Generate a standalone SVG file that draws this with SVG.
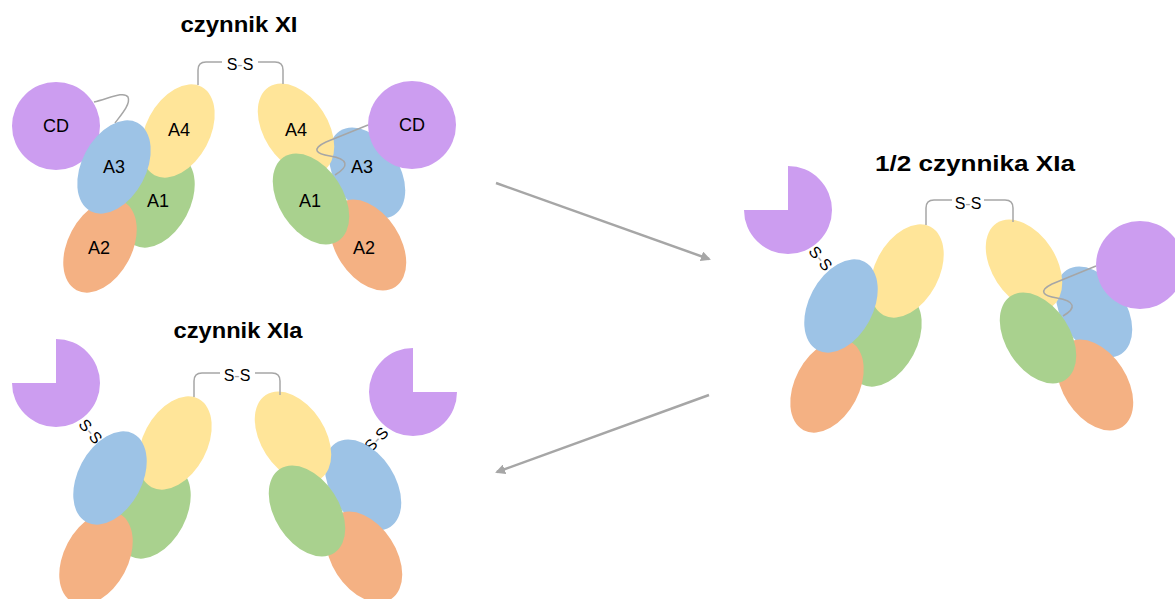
<svg xmlns="http://www.w3.org/2000/svg" width="1175" height="599" viewBox="0 0 1175 599">
  <defs>
    <style>
      .title { font-family: "Liberation Sans", Arial, sans-serif; font-weight: bold; font-size: 22px; fill: #000; text-anchor: middle; }
      .lbl { font-family: "Liberation Sans", Arial, sans-serif; font-size: 18px; fill: #000; text-anchor: middle; }
      .ss { font-family: "Liberation Sans", Arial, sans-serif; font-size: 16px; fill: #000; text-anchor: middle; }
      .dash { fill: #a6a6a6; }
      .cd { fill: #cc9df0; }
      .a1 { fill: #a9d18e; }
      .a2 { fill: #f4b183; }
      .a3 { fill: #9dc3e6; }
      .a4 { fill: #ffe599; }
      .link { fill: none; stroke: #a6a6a6; stroke-width: 1.5; }
      .arrow { fill: none; stroke: #a6a6a6; stroke-width: 2.5; marker-end: url(#head); }
    </style>
    <ellipse id="dom" cx="0" cy="0" rx="32" ry="50"/>
    <marker id="head" viewBox="0 0 10 10" refX="8" refY="5" markerWidth="4" markerHeight="4" orient="auto">
      <path d="M0,0 L10,5 L0,10 Z" fill="#a6a6a6"/>
    </marker>
  </defs>

  <rect width="1175" height="599" fill="#fff"/>

  <!-- titles -->
  <text class="title" x="239" y="32" textLength="117" lengthAdjust="spacingAndGlyphs">czynnik XI</text>
  <text class="title" x="238" y="338" textLength="129" lengthAdjust="spacingAndGlyphs">czynnik XIa</text>
  <text class="title" x="975" y="171" textLength="200" lengthAdjust="spacingAndGlyphs">1/2 czynnika XIa</text>

  <!-- factor XI: left subunit -->
  <g id="xi-left">
    <circle class="cd" cx="56" cy="126" r="44"/>
    <path class="link" d="M94,102 C110,98 124,91 128,97 C131,104 121,115 115,123"/>
    <use href="#dom" class="a1" transform="translate(158,201) rotate(28)"/>
    <use href="#dom" class="a4" transform="translate(178,131) rotate(28)"/>
    <use href="#dom" class="a2" transform="translate(100,246) rotate(28)"/>
    <use href="#dom" class="a3" transform="translate(114,167) rotate(28)"/>
    <text class="lbl" x="56" y="132">CD</text>
    <text class="lbl" x="179" y="136">A4</text>
    <text class="lbl" x="114" y="173">A3</text>
    <text class="lbl" x="158" y="207">A1</text>
    <text class="lbl" x="99" y="254">A2</text>
  </g>

  <!-- factor XI: right subunit -->
  <g id="xi-right">
    <use href="#dom" class="a3" transform="translate(367,173) rotate(-33)"/>
    <use href="#dom" class="a2" transform="translate(368,245) rotate(-33)"/>
    <use href="#dom" class="a4" transform="translate(296,129) rotate(-33)"/>
    <circle class="cd" cx="412" cy="125" r="44"/>
    <path class="link" d="M368,125 L326,142 C311,149 316,154 330,156 C348,159 350,166 335,175"/>
    <use href="#dom" class="a1" transform="translate(311,199) rotate(-33)"/>
    <text class="lbl" x="412" y="131">CD</text>
    <text class="lbl" x="296" y="136">A4</text>
    <text class="lbl" x="362" y="173">A3</text>
    <text class="lbl" x="310" y="207">A1</text>
    <text class="lbl" x="364" y="254">A2</text>
  </g>

  <!-- factor XI: interchain disulfide -->
  <g id="xi-ss">
    <path class="link" d="M198,85 L198,70 Q198,62 206,62 L222,62"/>
    <path class="link" d="M258,62 L275,62 Q283,62 283,70 L283,84"/>
    <text class="ss" x="240" y="70">S<tspan class="dash">-</tspan>S</text>
  </g>

  <!-- factor XIa: left subunit -->
  <g id="xia-left">
    <path class="cd" d="M56,339 A44,44 0 1 1 12,383 L56,383 Z"/>
    <text class="ss" transform="translate(91,431) rotate(50)" x="0" y="6">S<tspan class="dash">-</tspan>S</text>
    <use href="#dom" class="a1" transform="translate(154,512) rotate(28)"/>
    <use href="#dom" class="a4" transform="translate(175,443) rotate(28)"/>
    <use href="#dom" class="a2" transform="translate(96,558) rotate(28)"/>
    <use href="#dom" class="a3" transform="translate(110,478) rotate(28)"/>
  </g>

  <!-- factor XIa: right subunit -->
  <g id="xia-right">
    <path class="cd" d="M413,392 L413,348 A44,44 0 1 0 457,392 Z"/>
    <text class="ss" transform="translate(376,439) rotate(-47)" x="0" y="6">S<tspan class="dash">-</tspan>S</text>
    <use href="#dom" class="a3" transform="translate(363,485) rotate(-33)"/>
    <use href="#dom" class="a2" transform="translate(364,557) rotate(-33)"/>
    <use href="#dom" class="a4" transform="translate(293,437) rotate(-33)"/>
    <use href="#dom" class="a1" transform="translate(307,511) rotate(-33)"/>
  </g>

  <!-- factor XIa: interchain disulfide -->
  <g id="xia-ss">
    <path class="link" d="M194,397 L194,381 Q194,373 202,373 L220,373"/>
    <path class="link" d="M255,373 L272,373 Q280,373 280,381 L280,395"/>
    <text class="ss" x="237" y="381">S<tspan class="dash">-</tspan>S</text>
  </g>

  <!-- half-activated: left (activated) subunit -->
  <g id="half-left">
    <path class="cd" d="M788,166 A44,44 0 1 1 744,210 L788,210 Z"/>
    <text class="ss" transform="translate(821,258) rotate(50)" x="0" y="6">S<tspan class="dash">-</tspan>S</text>
    <use href="#dom" class="a1" transform="translate(885,340) rotate(28)"/>
    <use href="#dom" class="a4" transform="translate(907,271) rotate(28)"/>
    <use href="#dom" class="a2" transform="translate(827,386) rotate(28)"/>
    <use href="#dom" class="a3" transform="translate(841,306) rotate(28)"/>
  </g>

  <!-- half-activated: right (zymogen) subunit -->
  <g id="half-right">
    <use href="#dom" class="a3" transform="translate(1094,312) rotate(-33)"/>
    <use href="#dom" class="a2" transform="translate(1095,385) rotate(-33)"/>
    <use href="#dom" class="a4" transform="translate(1024,265) rotate(-33)"/>
    <circle class="cd" cx="1140" cy="265" r="44"/>
    <path class="link" d="M1096,266 L1052,284 C1038,291 1043,296 1057,298 C1075,301 1077,308 1063,316"/>
    <use href="#dom" class="a1" transform="translate(1038,338) rotate(-33)"/>
  </g>

  <!-- half-activated: interchain disulfide -->
  <g id="half-ss">
    <path class="link" d="M926,225 L926,208 Q926,200 934,200 L952,200"/>
    <path class="link" d="M984,200 L1005,200 Q1013,200 1013,208 L1013,222"/>
    <text class="ss" x="968" y="209">S<tspan class="dash">-</tspan>S</text>
  </g>

  <!-- reaction arrows -->
  <g id="connectors">
    <line class="arrow" x1="496" y1="183" x2="709" y2="259"/>
    <line class="arrow" x1="709" y1="395" x2="497" y2="472"/>
  </g>
</svg>
